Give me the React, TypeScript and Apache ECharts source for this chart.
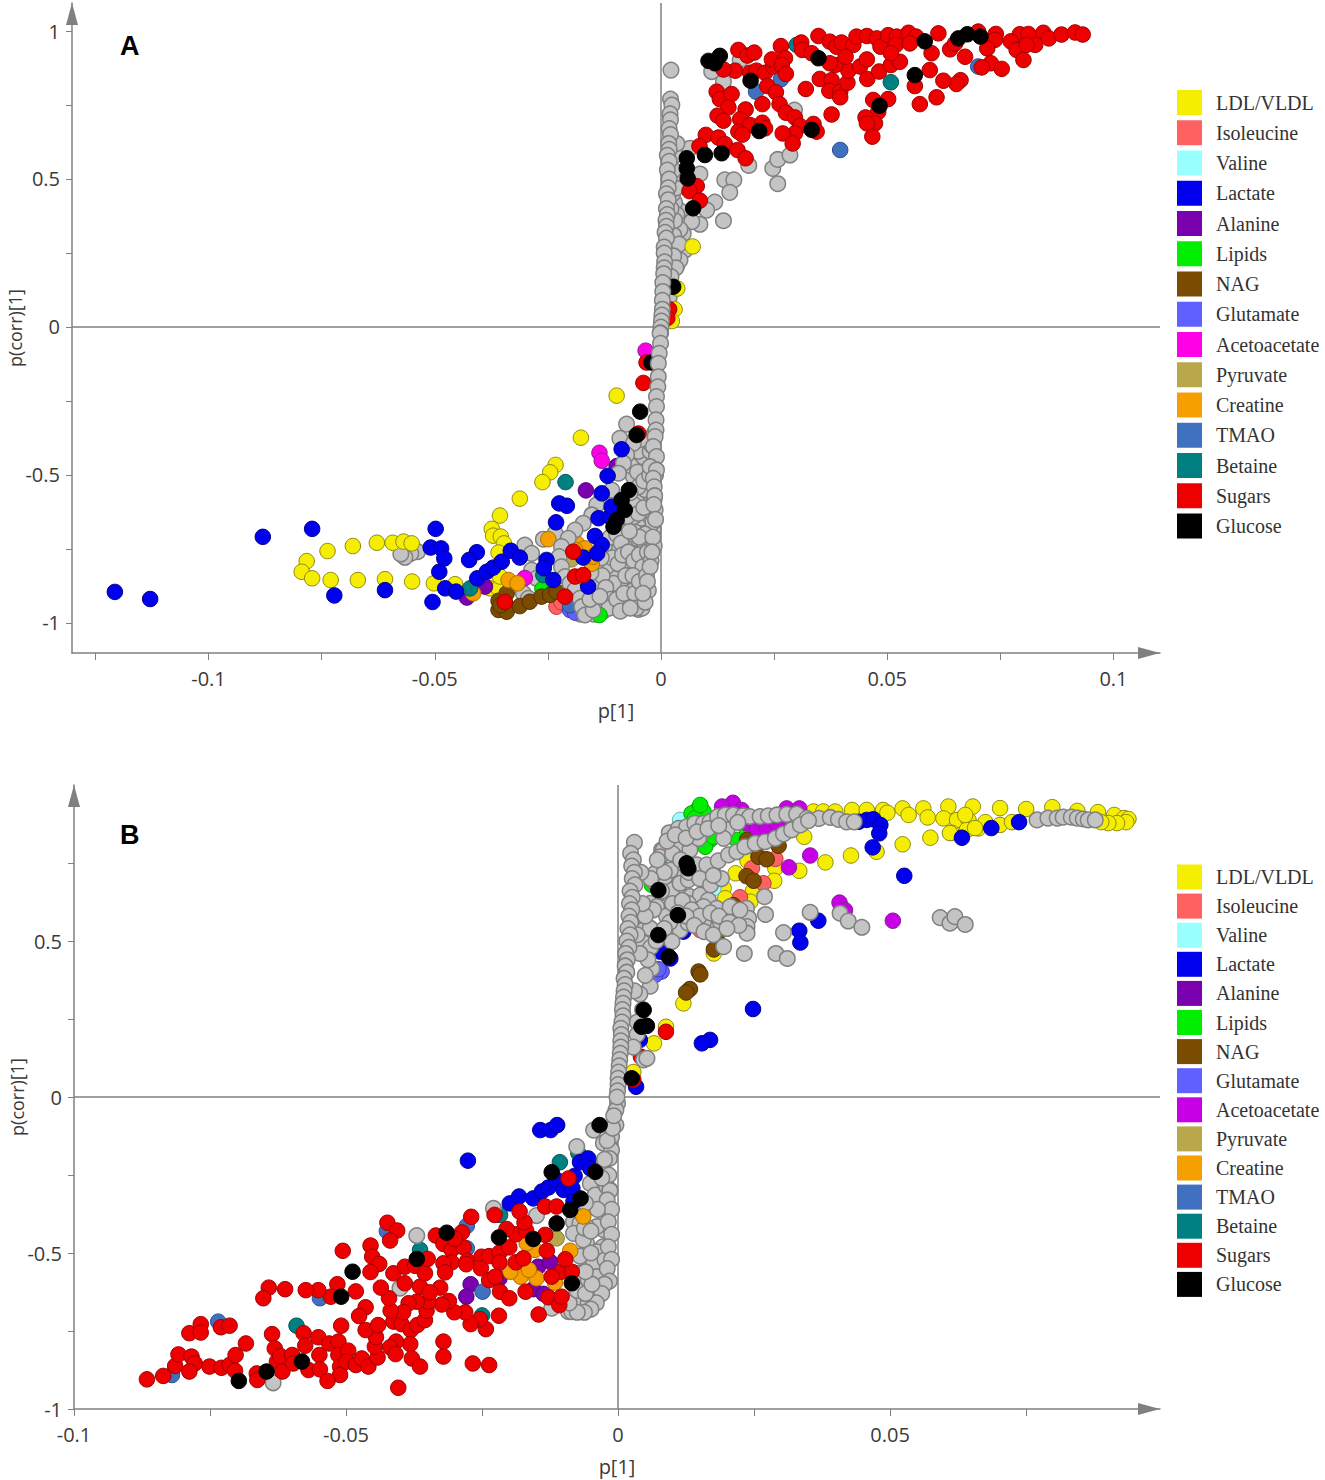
import React, { useEffect, useRef } from "react";
import * as echarts from "echarts";

type Pt = [number, number];

const legendNames = ["LDL/VLDL","Isoleucine","Valine","Lactate","Alanine","Lipids","NAG","Glutamate","Acetoacetate","Pyruvate","Creatine","TMAO","Betaine","Sugars","Glucose"];
const xTicksA = [-0.125,-0.1,-0.075,-0.05,-0.025,0,0.025,0.05,0.075,0.1];
const xLabelsA = [-0.1,-0.05,0,0.05,0.1];
const yTicksA = [-1,-0.75,-0.5,-0.25,0,0.25,0.5,0.75,1];
const yLabelsA = [-1,-0.5,0,0.5,1];
const xTicksB = [-0.1,-0.075,-0.05,-0.025,0,0.025,0.05,0.075];
const xLabelsB = [-0.1,-0.05,0,0.05];
const yTicksB = [-1,-0.75,-0.5,-0.25,0,0.25,0.5,0.75];
const yLabelsB = [-1,-0.5,0,0.5];

// ---------- Panel A ----------
const aSugars: Pt[] = [[.0171,.936],[.0191,.917],[.0206,.927],[.0265,.949],[.0310,.961],[.0312,.936],[.0348,.983],[.0373,.964],[.0388,.947],[.0399,.961],[.0425,.953],[.0432,.981],[.0455,.983],[.0477,.975],[.0485,.947],[.0502,.986],[.0521,.981],[.0519,.953],[.0547,.994],[.0564,.981],[.0550,.958],[.0613,.992],[.0598,.925],[.0639,.938],[.0650,.958],[.0701,.998],[.0740,.990],[.0738,.970],[.0721,.941],[.0672,.913],[.0793,.989],[.0812,.990],[.0845,.994],[.0857,.975],[.0885,.988],[.0915,.995],[.0932,.988],[.0773,.965],[.0786,.936],[.0801,.902],[.0827,.953],[.0808,.953],[.0729,.891],[.0753,.872],[.0709,.877],[.0662,.834],[.0653,.821],[.0624,.832],[.0594,.868],[.0609,.776],[.0572,.753],[.0561,.814],[.0502,.770],[.0469,.767],[.0480,.727],[.0452,.708],[.0473,.688],[.0455,.688],[.0467,.643],[.0377,.718],[.0320,.804],[.0351,.838],[.0377,.834],[.0372,.798],[.0396,.795],[.0396,.776],[.0412,.825],[.0414,.866],[.0385,.885],[.0408,.913],[.0440,.880],[.0455,.904],[.0456,.838],[.0482,.863],[.0508,.885],[.0528,.896],[.0508,.925],[.0333,.925],[.0373,.891],[.0164,.866],[.0138,.870],[.0197,.859],[.0211,.866],[.0230,.859],[.0248,.880],[.0245,.904],[.0274,.908],[.0267,.885],[.0276,.855],[.0235,.814],[.0254,.793],[.0123,.795],[.0130,.770],[.0156,.787],[.0149,.742],[.0187,.735],[.0224,.753],[.0262,.753],[.0276,.724],[.0296,.708],[.0307,.679],[.0296,.654],[.0269,.654],[.0291,.620],[.0337,.686],[.0344,.660],[.0125,.714],[.0138,.697],[.0175,.702],[.0197,.682],[.0224,.690],[.0230,.671],[.0171,.660],[.0180,.650],[.0099,.649],[.0127,.640],[.0141,.618],[.0085,.611],[.0169,.598],[.0187,.570],[.0079,.476],[.0063,.459],[.0086,.427],[-.0345,-.929],[-.0190,-.843],[-.0172,-.838],[-.0194,-.759],[-.0212,-.911],[-.0039,-.189],[-.0032,-.12],[-.0050,-.36],[.0018,.06],[.0014,.03]];
const aGlucose: Pt[] = [[.0105,.899],[.0119,.891],[.0130,.916],[.0198,.832],[.0217,.662],[.0097,.581],[.0134,.587],[.0057,.570],[.0057,.536],[.0059,.502],[.0071,.401],[.0333,.666],[.0348,.908],[.0483,.747],[.0561,.851],[.0583,.965],[.0657,.975],[.0677,.989],[.0706,.981],[.0027,.136],[-.0105,-.675],[-.0098,-.652],[-.0087,-.584],[-.0080,-.618],[-.0071,-.551],[-.0046,-.286],[-.0054,-.365],[-.0021,-.12]];
const aTmao: Pt[] = [[.0396,.598],[.0701,.880],[.0265,.837],[.0210,.795],[-.0201,-.94]];
const aBetaine: Pt[] = [[.0508,.827],[.0300,.953],[-.0211,-.524],[-.0422,-.883],[-.0260,-.838]];
const aLdl: Pt[] = [[-.0098,-.232],[-.0177,-.374],[-.0233,-.466],[-.0245,-.491],[-.0262,-.524],[-.0312,-.580],[-.0356,-.637],[-.0374,-.682],[-.0371,-.705],[-.0354,-.708],[-.0347,-.731],[-.0359,-.762],[-.0628,-.729],[-.0593,-.729],[-.0569,-.725],[-.0551,-.731],[-.0681,-.740],[-.0737,-.757],[-.0783,-.791],[-.0794,-.827],[-.0771,-.849],[-.0730,-.855],[-.0670,-.855],[-.0610,-.852],[-.0550,-.860],[-.0502,-.866],[-.0455,-.869],[-.0378,-.883],[-.0359,-.883],[-.0356,-.843],[.0070,.272],[.0036,.13],[.0030,.06],[.0024,.02]];
const aLactate: Pt[] = [[-.0771,-.682],[-.0498,-.682],[-.0509,-.745],[-.0486,-.748],[-.0479,-.782],[-.0490,-.827],[-.0407,-.761],[-.0424,-.787],[-.0722,-.907],[-.0610,-.889],[-.0505,-.929],[-.0477,-.883],[-.0453,-.894],[-.0406,-.849],[-.0385,-.827],[-.0371,-.813],[-.0352,-.793],[-.0332,-.756],[-.0312,-.779],[-.0253,-.787],[-.0259,-.815],[-.0238,-.855],[-.0172,-.779],[-.0161,-.877],[-.0232,-.660],[-.0225,-.596],[-.0208,-.604],[-.0146,-.706],[-.0131,-.736],[-.0141,-.765],[-.0138,-.646],[-.0113,-.641],[-.0109,-.607],[-.0131,-.562],[-.0118,-.503],[-.0087,-.413],[-.0880,-.709],[-.1207,-.895],[-.1129,-.919]];
const aAceto: Pt[] = [[-.0136,-.425],[-.0131,-.452],[-.0034,-.080],[-.0301,-.848]];
const aAlanine: Pt[] = [[-.0166,-.552],[-.0098,-.470],[-.0389,-.877],[-.0429,-.914]];
const aCreatine: Pt[] = [[-.0337,-.855],[-.0317,-.866],[-.0415,-.900],[-.0249,-.717],[-.0186,-.731],[-.0168,-.748],[-.0190,-.753],[-.0153,-.80],[-.0150,-.776]];
const aNag: Pt[] = [[-.0359,-.956],[-.0341,-.962],[-.0359,-.925],[-.0341,-.900],[-.0312,-.943],[-.0290,-.928],[-.0264,-.911],[-.0245,-.905],[-.0231,-.894],[-.0355,-.94]];
const aIso: Pt[] = [[-.0231,-.945],[-.0220,-.93]];
const aValine: Pt[] = [[-.0190,-.90]];
const aGlutamate: Pt[] = [[-.0201,-.956],[-.0190,-.965]];
const aLipids: Pt[] = [[-.0136,-.973],[-.0262,-.885]];
const aPyruvate: Pt[] = [[-.0198,-.785]];
const aGrayUnder: Pt[] = [[.0022,.868],[.0138,.359],[.0086,.347],[.0119,.422],[.0101,.395],[.0068,.356],[.0042,.393],[.0086,.517],[.0141,.497],[.0161,.497],[.0152,.455],[.0258,.484],[.0247,.536],[.0258,.566],[.0285,.581],[.0194,.546],[.0138,.829],[.0112,.863],[.0175,.902],[.0295,.733],[.0064,.604],[.0053,.26],[.0035,.339],[.0035,.209],[.0042,.226],[.0049,.316],[.0030,.42],[.0035,.38],[.0042,.33],[.0028,.31],[.0040,.28],[.0028,.24],[.0033,.20],[.0022,.17],[.0025,.13],[.0018,.10],[.0030,.36],[.0022,.40],[.0026,.45],[.0033,.47],[.0040,.52],[.0028,.53],[.0030,.58],[.0035,.62],[-.0538,-.759],[-.0553,-.765],[-.0566,-.778],[-.0575,-.767],[-.0098,-.748],[-.0069,-.793],[-.0035,-.798],[-.0054,-.68],[-.0028,-.675],[-.0032,-.602],[-.0061,-.714],[-.0083,-.798],[-.0105,-.821],[-.0094,-.889],[-.0065,-.877],[-.0043,-.911],[-.0050,-.954],[-.0105,-.945],[-.0135,-.866],[-.0116,-.786],[-.0076,-.843],[-.0054,-.821],[-.0039,-.753],[-.0080,-.742],[-.0017,-.686],[-.0013,-.618],[-.0043,-.646],[-.0061,-.641],[-.0032,-.551],[-.0046,-.584],[-.0046,-.46],[-.0032,-.438],[-.0061,-.505],[-.0039,-.495],[-.0091,-.877],[-.0120,-.911],[-.0028,-.72],[-.0024,-.64],[-.0072,-.92],[-.0083,-.675],[-.0105,-.866],[-.0061,-.765],[-.0021,-.585],[-.0301,-.737],[-.0286,-.765],[-.0260,-.717],[-.0286,-.821],[-.0275,-.849],[-.0304,-.90],[-.0293,-.917],[-.0234,-.697],[-.0125,-.74],[-.0112,-.71],[-.0098,-.70],[-.0088,-.73],[-.0120,-.81],[-.0108,-.78],[-.0095,-.80],[-.0085,-.77],[-.0072,-.76],[-.0060,-.79],[-.0048,-.77],[-.0040,-.81],[-.0030,-.76],[-.0022,-.79],[-.0015,-.74],[-.0018,-.66],[-.0035,-.70],[-.0048,-.71],[-.0070,-.69],[-.0075,-.64],[-.0060,-.60],[-.0050,-.63],[-.0038,-.61],[-.0022,-.57],[-.0035,-.55],[-.0050,-.54],[-.0068,-.56],[-.0065,-.47],[-.0052,-.49],[-.0038,-.52],[-.0025,-.50],[-.0018,-.46],[-.0038,-.44],[-.0050,-.42],[-.0024,-.42],[-.0015,-.58],[-.0012,-.50],[-.0020,-.40],[-.0015,-.36],[-.0030,-.38],[-.0045,-.38],[-.0145,-.82],[-.0150,-.87],[-.0130,-.84],[-.0122,-.88],[-.0112,-.92],[-.0138,-.94],[-.0128,-.96],[-.0115,-.95],[-.0098,-.92],[-.0090,-.96],[-.0082,-.90],[-.0078,-.84],[-.0062,-.84],[-.0058,-.90],[-.0048,-.86],[-.0032,-.84],[-.0028,-.89],[-.0042,-.95],[-.0055,-.95],[-.0068,-.95],[-.0035,-.93],[-.0160,-.96],[-.0178,-.97],[-.0148,-.97],[-.0165,-.90],[-.0155,-.83],[-.0132,-.78]];
const aGrayCurve: Pt[] = [[-.0076,-.328],[-.0091,-.376],[-.0061,-.393],[-.0076,-.432],[-.0083,-.46],[-.0094,-.494],[-.0109,-.551],[-.0131,-.579],[-.0142,-.601],[-.0153,-.635],[-.0172,-.663],[-.0190,-.686],[-.0205,-.714],[-.0220,-.742],[-.0225,-.776],[-.0220,-.81],[-.0212,-.843],[-.0201,-.866],[-.0190,-.888],[-.0179,-.917],[-.0175,-.945],[-.0168,-.973],[-.0150,-.956],[-.0157,-.92],[-.0135,-.91]];
const aGrayStack: Pt[] = [[.0021,.77],[.0024,.75],[.0020,.72],[.0021,.70],[.0018,.67],[.0021,.65],[.0017,.62],[.0018,.60],[.0014,.58],[.0018,.56],[.0014,.53],[.0018,.50],[.0016,.47],[.0012,.45],[.0016,.43],[.0012,.40],[.0014,.38],[.0011,.36],[.0012,.34],[.0009,.32],[.0012,.30],[.0007,.27],[.0007,.25],[.0008,.22],[.0007,.20],[.0006,.18],[.0004,.15],[.0004,.12],[.0003,.09],[.0003,.06],[.0002,.04],[.0001,.02],[0,0],[-.0001,-.02],[-.0002,-.021],[-.0001,-.055],[-.0004,-.089],[-.0006,-.123],[-.0006,-.168],[-.0007,-.202],[-.0010,-.235],[-.0010,-.269],[-.0011,-.314],[-.0011,-.348],[-.0013,-.37],[-.0017,-.404],[-.0010,-.438],[-.0024,-.472],[-.0010,-.483],[-.0017,-.511],[-.0015,-.54],[-.0014,-.57],[-.0016,-.60],[-.0012,-.65],[-.0018,-.71],[-.0020,-.76],[-.0024,-.81],[-.0030,-.86],[-.0040,-.90]];

// ---------- Panel B ----------
const bLdl: Pt[] = [[.0359,.915],[.0377,.915],[.0399,.915],[.0430,.920],[.0457,.920],[.0487,.920],[.0495,.911],[.0523,.925],[.0534,.904],[.0561,.925],[.0569,.896],[.0607,.931],[.0598,.893],[.0623,.888],[.0644,.888],[.0652,.931],[.0613,.847],[.0641,.856],[.0662,.861],[.0574,.831],[.0523,.810],[.0475,.786],[.0428,.774],[.0381,.752],[.0333,.725],[.0342,.834],[.0289,.733],[.0287,.693],[.0238,.757],[.0216,.717],[.0248,.661],[.0243,.626],[.0194,.669],[.0197,.637],[.0176,.460],[.0120,.300],[.0088,.225],[.0066,.172],[.0028,.08],[.0702,.926],[.0750,.923],[.0798,.929],[.0844,.917],[.0882,.913],[.0912,.904],[.0930,.894],[.0938,.891],[.0934,.881],[.0917,.878],[.0901,.878],[.0888,.881],[.0702,.872],[.0675,.881],[.0656,.862],[.0724,.881],[.0638,.904],[.0610,.846]];
const bLactate: Pt[] = [[.0442,.882],[.0457,.888],[.0469,.890],[.0482,.872],[.0480,.845],[.0468,.800],[.0526,.709],[.0632,.831],[.0368,.565],[.0333,.533],[.0335,.495],[.0248,.282],[.0169,.183],[.0154,.172],[.0033,.033],[.0077,.466],[.0040,.183],[.0108,.62],[.0120,.53],[.0096,.444],[.0686,.862],[.0737,.881],[-.0276,-.204],[-.0143,-.106],[-.0124,-.106],[-.0112,-.090],[-.0199,-.341],[-.0182,-.319],[-.0156,-.325],[-.0140,-.303],[-.0128,-.290],[-.0113,-.266],[-.0100,-.298],[-.0084,-.293],[-.0080,-.253],[-.0070,-.209],[-.0055,-.197],[-.0051,-.229],[-.0082,-.335]];
const bAceto: Pt[] = [[.0211,.943],[.0191,.931],[.0227,.92],[.0310,.925],[.0333,.925],[.0353,.774],[.0314,.736],[.0407,.623],[.0417,.599],[.0505,.565],[.0237,.877],[.0255,.861],[.0273,.861],[.0291,.877],[.0212,.893],[.0224,.888],[.0304,.888]];
const bLipids: Pt[] = [[.0148,.925],[.0135,.909],[.0157,.915],[.0141,.893],[.0151,.936],[.0169,.824],[.0160,.802],[.0175,.834],[.0077,.744],[.0237,.845],[.0218,.824],[.0062,.68],[.0044,.546]];
const bValine: Pt[] = [[.0114,.888],[.0175,.669],[.0178,.706],[.0135,.60]];
const bIso: Pt[] = [[.0289,.763],[.0267,.685],[.0224,.640],[.0246,.733],[.0151,.535]];
const bNag: Pt[] = [[.0258,.770],[.0273,.762],[.0236,.708],[.0249,.693],[.0295,.805],[.0181,.514],[.0176,.473],[.0148,.402],[.0151,.393],[.0132,.346],[.0125,.335],[.0212,.615],[.0237,.824]];
const bGlucose: Pt[] = [[.0110,.583],[.0093,.450],[.0053,.228],[.0043,.225],[.0129,.733],[.0074,.663],[.0074,.519],[.0047,.279],[.0025,.06],[.0126,.749],[-.0697,-.910],[-.0646,-.880],[-.0581,-.848],[-.0509,-.640],[-.0488,-.560],[-.0370,-.519],[-.0315,-.435],[-.0219,-.450],[-.0156,-.455],[-.0113,-.405],[-.0085,-.597],[-.0122,-.241],[-.0034,-.090],[-.0069,-.325],[-.0088,-.362],[-.0042,-.24]];
const bGlutamate: Pt[] = [[.0080,.402],[.0068,.391],[.0175,.717],[.0074,.41]];
const bPyruvate: Pt[] = [[.0080,.498],[-.0113,-.453]];
const bSugars: Pt[] = [[.0088,.209],[.0042,.129],[.0028,.055],[-.0866,-.905],[-.0836,-.894],[-.0814,-.862],[-.0808,-.825],[-.0788,-.757],[-.0767,-.728],[-.0767,-.755],[-.0730,-.738],[-.0714,-.733],[-.0784,-.832],[-.0778,-.854],[-.0788,-.880],[-.0751,-.864],[-.0729,-.868],[-.0714,-.859],[-.0703,-.827],[-.0704,-.877],[-.0684,-.790],[-.0664,-.886],[-.0663,-.907],[-.0636,-.760],[-.0631,-.806],[-.0627,-.848],[-.0621,-.830],[-.0617,-.880],[-.0599,-.827],[-.0597,-.854],[-.0578,-.757],[-.0575,-.797],[-.0569,-.875],[-.0551,-.770],[-.0549,-.827],[-.0548,-.873],[-.0531,-.790],[-.0514,-.784],[-.0514,-.827],[-.0511,-.864],[-.0511,-.891],[-.0534,-.910],[-.0496,-.813],[-.0499,-.848],[-.0482,-.859],[-.0471,-.838],[-.0459,-.864],[-.0442,-.835],[-.0447,-.800],[-.0445,-.770],[-.0464,-.747],[-.0441,-.731],[-.0509,-.733],[-.0413,-.720],[-.0398,-.728],[-.0381,-.747],[-.0369,-.731],[-.0355,-.715],[-.0382,-.792],[-.0408,-.784],[-.0419,-.802],[-.0409,-.824],[-.0379,-.838],[-.0364,-.864],[-.0404,-.932],[-.0321,-.784],[-.0321,-.832],[-.0267,-.854],[-.0237,-.859],[-.0146,-.697],[-.0219,-.701],[-.0243,-.744],[-.0254,-.712],[-.0271,-.728],[-.0281,-.690],[-.0301,-.690],[-.0311,-.654],[-.0324,-.665],[-.0352,-.685],[-.0349,-.656],[-.0370,-.656],[-.0385,-.661],[-.0395,-.690],[-.0418,-.685],[-.0421,-.645],[-.0436,-.611],[-.0392,-.597],[-.0364,-.608],[-.0327,-.611],[-.0346,-.626],[-.0464,-.674],[-.0476,-.702],[-.0482,-.623],[-.0516,-.600],[-.0528,-.640],[-.0551,-.619],[-.0574,-.619],[-.0612,-.616],[-.0642,-.611],[-.0652,-.645],[-.0506,-.493],[-.0455,-.476],[-.0452,-.512],[-.0439,-.535],[-.0455,-.561],[-.0413,-.565],[-.0392,-.544],[-.0373,-.541],[-.0355,-.565],[-.0350,-.519],[-.0424,-.403],[-.0406,-.428],[-.0419,-.460],[-.0335,-.444],[-.0321,-.471],[-.0306,-.490],[-.0284,-.482],[-.0287,-.434],[-.0300,-.455],[-.0270,-.384],[-.0277,-.525],[-.0306,-.530],[-.0321,-.533],[-.0318,-.562],[-.0279,-.536],[-.0251,-.512],[-.0252,-.549],[-.0237,-.510],[-.0218,-.499],[-.0218,-.530],[-.0200,-.482],[-.0237,-.587],[-.0226,-.576],[-.0217,-.624],[-.0200,-.645],[-.0170,-.624],[-.0128,-.642],[-.0108,-.667],[-.0104,-.640],[-.0104,-.560],[-.0085,-.560],[-.0122,-.576],[-.0097,-.520],[-.0131,-.493],[-.0134,-.442],[-.0188,-.530],[-.0174,-.517],[-.0188,-.440],[-.0169,-.428],[-.0205,-.423],[-.0172,-.402],[-.0181,-.367],[-.0227,-.378],[-.0134,-.351],[-.0113,-.351],[-.0091,-.261]];
const bCreatine: Pt[] = [[-.0088,-.493],[-.0116,-.595],[-.0150,-.581],[-.0179,-.576],[-.0164,-.554],[-.0198,-.560],[-.0153,-.490],[-.0168,-.469],[-.0064,-.383]];
const bAlanine: Pt[] = [[-.0271,-.600],[-.0279,-.640],[-.0156,-.616],[-.0137,-.631],[-.0147,-.544],[-.0125,-.528],[-.0218,-.581]];
const bTmao: Pt[] = [[-.0249,-.624],[-.0548,-.645],[-.0735,-.72],[-.0278,-.413],[-.0820,-.891],[-.0425,-.43],[-.0278,-.485]];
const bBetaine: Pt[] = [[-.0591,-.733],[-.0364,-.49],[-.0250,-.70],[-.0217,-.378],[-.0107,-.209],[-.0073,-.18]];
const bGrayLower: Pt[] = [[-.0370,-.444],[-.0634,-.916],[-.0401,-.613],[-.0122,-.677],[-.0150,-.38],[-.0229,-.357],[-.0076,-.159],[-.0045,-.106],[-.0024,-.336],[-.0023,-.384],[-.0026,-.426],[-.0028,-.48],[-.0032,-.53],[-.0034,-.581],[-.0042,-.624],[-.0048,-.64],[-.0061,-.656],[-.0073,-.677],[-.0091,-.688],[-.0082,-.68],[-.0067,-.608],[-.0073,-.565],[-.0058,-.469],[-.0055,-.586],[-.0058,-.522],[-.0039,-.496],[-.0045,-.533],[-.0039,-.415],[-.0048,-.351],[-.0033,-.351],[-.0051,-.277],[-.0042,-.314],[-.0036,-.234],[-.0021,-.287],[-.0073,-.378],[-.0082,-.40],[-.0070,-.405],[-.0082,-.437],[-.0064,-.458],[-.0058,-.416],[-.0070,-.51],[-.0079,-.64],[-.0070,-.65],[-.0055,-.661],[-.0085,-.688],[-.0039,-.576],[-.0024,-.522],[-.0015,-.16],[-.0030,-.223],[-.0027,-.148],[-.0001,-.02],[-.0004,-.042],[-.0004,-.09],[-.0012,-.127],[-.0012,-.17],[-.0016,-.197],[-.0017,-.25],[-.0015,-.298],[-.0015,-.30],[-.0020,-.33],[-.0012,-.36],[-.0018,-.40],[-.0012,-.44],[-.0018,-.48],[-.0012,-.52],[-.0020,-.55],[-.0016,-.59],[-.0025,-.60],[-.0030,-.63],[-.0040,-.66],[-.0050,-.68],[-.0062,-.69],[-.0075,-.69],[-.0090,-.66],[-.0075,-.62],[-.0060,-.63],[-.0048,-.60],[-.0060,-.56],[-.0050,-.50],[-.0062,-.42],[-.0050,-.43],[-.0038,-.36],[-.0060,-.34],[-.0030,-.26],[-.0025,-.20],[-.0020,-.14],[-.0010,-.10],[-.0008,-.06]];
const bGrayUpper: Pt[] = [[.0047,.535],[.0059,.621],[.0068,.685],[.0080,.792],[.0094,.847],[.0111,.861],[.0126,.866],[.0141,.877],[.0157,.877],[.0169,.882],[.0183,.899],[.0197,.904],[.0212,.904],[.0230,.901],[.0242,.899],[.0261,.899],[.0276,.901],[.0292,.904],[.0310,.906],[.0328,.907],[.0347,.893],[.0369,.893],[.0390,.896],[.0405,.890],[.0420,.882],[.0434,.882],[.0071,.61],[.0089,.653],[.0108,.711],[.0123,.744],[.0145,.744],[.0163,.744],[.0184,.757],[.0203,.776],[.0218,.786],[.0233,.802],[.0252,.813],[.0270,.818],[.0289,.829],[.0304,.843],[.0319,.856],[.0335,.872],[.0350,.886],[.0083,.792],[.0114,.813],[.0132,.792],[.0148,.829],[.0200,.856],[.0194,.829],[.0099,.663],[.0114,.685],[.0129,.696],[.0086,.706],[.0068,.717],[.0132,.642],[.0151,.647],[.0166,.631],[.0181,.605],[.0200,.578],[.0218,.573],[.0236,.605],[.0240,.573],[.0237,.546],[.0237,.525],[.0172,.551],[.0145,.573],[.0114,.535],[.0099,.498],[.0089,.580],[.0065,.60],[.0059,.541],[.0047,.493],[.0194,.482],[.0232,.460],[.0269,.642],[.0271,.585],[.0304,.527],[.0290,.460],[.0311,.444],[.0353,.592],[.0408,.589],[.0423,.564],[.0448,.544],[.0592,.575],[.0610,.557],[.0619,.578],[.0638,.553],[.0062,.412],[.0059,.355],[.0047,.119],[.0053,.124],[.0157,.61],[.0129,.621],[.0206,.61],[.0224,.599],[.0188,.562],[.0157,.562],[.0129,.557],[.0096,.727],[.0077,.770],[.0770,.888],[.0790,.894],[.0807,.894],[.0818,.897],[.0833,.897],[.0844,.894],[.0855,.891],[.0864,.888],[.0877,.888],[.0085,.72],[.0100,.78],[.0115,.76],[.0130,.72],[.0150,.70],[.0170,.68],[.0190,.70],[.0175,.71],[.0080,.66],[.0100,.62],[.0118,.63],[.0135,.60],[.0150,.58],[.0170,.59],[.0185,.58],[.0205,.56],[.0222,.55],[.0095,.56],[.0110,.59],[.0125,.58],[.0140,.55],[.0158,.53],[.0175,.52],[.0200,.54],[.0075,.52],[.0085,.54],[.0060,.48],[.0070,.50],[.0055,.44],[.0050,.58],[.0060,.70],[.0072,.76],[.0090,.82],[.0105,.84],[.0125,.83],[.0145,.85],[.0165,.86],[.0185,.87],[.0220,.88],[.0040,.46],[.0050,.39],[.0040,.33],[.0045,.28],[.0035,.24],[.0035,.20],[.0028,.16],[.0030,.34],[.0035,.52],[.0045,.62],[.0042,.72],[.0030,.816],[.0023,.781],[.0028,.76],[.0025,.74],[.0030,.72],[.0026,.70],[.0031,.68],[.0022,.66],[.0026,.64],[.0021,.62],[.0025,.60],[.0020,.58],[.0023,.56],[.0018,.54],[.0022,.52],[.0016,.50],[.0020,.48],[.0014,.46],[.0017,.44],[.0013,.42],[.0016,.40],[.0011,.38],[.0013,.36],[.0011,.34],[.0010,.32],[.0009,.30],[.0008,.28],[.0009,.26],[.0007,.24],[.0005,.22],[.0006,.20],[.0005,.18],[.0005,.16],[.0004,.14],[.0003,.12],[.0002,.10],[.0001,.08],[0,.06],[0,.04],[-.0001,.02],[-.0002,0]];

const FILL: Record<string, string> = { "LDL/VLDL":"#f5ee00", Isoleucine:"#ff6060", Valine:"#99ffff", Lactate:"#0000ee", Alanine:"#7a00b0", Lipids:"#00ee00", NAG:"#7a4b00", Glutamate:"#6060ff", Acetoacetate:"#c800e6", Pyruvate:"#b8a84a", Creatine:"#f5a000", TMAO:"#4070c0", Betaine:"#008080", Sugars:"#ee0000", Glucose:"#000000", Other:"#c4c4c4" };
const EDGE: Record<string, string> = { "LDL/VLDL":"#8f8a10", Isoleucine:"#b04040", Valine:"#70b0b0", Lactate:"#000090", Alanine:"#50007a", Lipids:"#00a000", NAG:"#503000", Glutamate:"#4040b0", Acetoacetate:"#802090", Pyruvate:"#807530", Creatine:"#a87000", TMAO:"#28508f", Betaine:"#005555", Sugars:"#a00000", Glucose:"#000000", Other:"#808080" };
const ACETO_A = "#ff00e6";

function scatter(name: string, data: Pt[], panel: number, fill?: string) {
  return {
    type: "scatter", name, data, xAxisIndex: panel, yAxisIndex: panel,
    symbol: "circle", symbolSize: 15.5, silent: true,
    itemStyle: { color: fill ?? FILL[name], borderColor: EDGE[name], borderWidth: name === "Other" ? 1.5 : 1, opacity: 1 },
    emphasis: { disabled: true },
  };
}

function zeroLines(panel: number) {
  return {
    type: "scatter", name: "axes", data: [], xAxisIndex: panel, yAxisIndex: panel, silent: true,
    markLine: {
      silent: true, symbol: "none", animation: false, z: 1,
      label: { show: false },
      lineStyle: { color: "#808080", width: 1.5, type: "solid" },
      data: [{ xAxis: 0 }, { yAxis: 0 }],
    },
  };
}

const axisFont = { fontFamily: "Open Sans", fontSize: 20, color: "#3a3a3a" };
const axisColor = "#808080";

function xAxis(panel: number, min: number, max: number, ticks: number[], labels: number[]) {
  return {
    type: "value", gridIndex: panel, min, max, splitLine: { show: false },
    name: "p[1]", nameLocation: "middle", nameGap: 47, nameTextStyle: axisFont,
    axisLine: { onZero: false, lineStyle: { color: axisColor, width: 1.5 }, symbol: ["none", "triangle"], symbolSize: [12, 22], symbolOffset: [0, -11] },
    axisTick: { length: 7, lineStyle: { color: axisColor, width: 1 }, customValues: ticks },
    axisLabel: { ...axisFont, margin: 15, customValues: labels, showMinLabel: true, showMaxLabel: true },
  };
}
function yAxis(panel: number, min: number, max: number, ticks: number[], labels: number[]) {
  return {
    type: "value", gridIndex: panel, min, max, splitLine: { show: false },
    name: "p(corr)[1]", nameLocation: "middle", nameGap: 48, nameMoveOverlap: false, nameTextStyle: { ...axisFont, fontSize: 18 },
    axisLine: { onZero: false, lineStyle: { color: axisColor, width: 1.5 }, symbol: ["none", "triangle"], symbolSize: [12, 22], symbolOffset: [0, -11] },
    axisTick: { length: 6, lineStyle: { color: axisColor, width: 1 }, customValues: ticks },
    axisLabel: { ...axisFont, margin: 12, customValues: labels },
  };
}
function legend(top: number, gap: number, panelA: boolean) {
  return {
    orient: "vertical", left: 1177, top, itemWidth: 25, itemHeight: 25, itemGap: gap, selectedMode: false,
    icon: "rect", padding: 0,
    textStyle: { fontFamily: "Liberation Serif", fontSize: 20, color: "#333", padding: [0, 0, 0, 9] },
    data: legendNames.map((n) => ({
      name: n, icon: "rect",
      itemStyle: { color: panelA && n === "Acetoacetate" ? ACETO_A : FILL[n], borderWidth: 0 },
    })),
  };
}

export default function App() {
  const ref = useRef<HTMLDivElement>(null);
  useEffect(() => {
    const chart = echarts.init(ref.current!, undefined, { renderer: "svg" });
    chart.setOption({
      animation: false,
      backgroundColor: "#ffffff",
      grid: [
        { left: 72, top: 3, width: 1088, height: 650, outerBoundsMode: "none" },
        { left: 74, top: 785, width: 1086, height: 624, outerBoundsMode: "none" },
      ],
      xAxis: [xAxis(0, -0.13017, 0.11028, xTicksA, xLabelsA), xAxis(1, -0.1, 0.0996, xTicksB, xLabelsB)],
      yAxis: [yAxis(0, -1.1014, 1.0946, yTicksA, yLabelsA), yAxis(1, -1, 1, yTicksB, yLabelsB)],
      legend: [legend(90, 5.25, true), legend(864.5, 4.1, false)],
      graphic: [
        { type: "text", left: 120, top: 32, style: { text: "A", font: "bold 27px 'Liberation Sans'", fill: "#000" } },
        { type: "text", left: 120, top: 821, style: { text: "B", font: "bold 27px 'Liberation Sans'", fill: "#000" } },
      ],
      series: [
        zeroLines(0),
        scatter("Other", aGrayUnder, 0),
        scatter("LDL/VLDL", aLdl, 0),
        scatter("Isoleucine", aIso, 0),
        scatter("Valine", aValine, 0),
        scatter("Alanine", aAlanine, 0),
        scatter("Lipids", aLipids, 0),
        scatter("NAG", aNag, 0),
        scatter("Glutamate", aGlutamate, 0),
        scatter("Acetoacetate", aAceto, 0, ACETO_A),
        scatter("Pyruvate", aPyruvate, 0),
        scatter("Creatine", aCreatine, 0),
        scatter("TMAO", aTmao, 0),
        scatter("Betaine", aBetaine, 0),
        scatter("Other", aGrayCurve, 0),
        scatter("Lactate", aLactate, 0),
        scatter("Sugars", aSugars, 0),
        scatter("Glucose", aGlucose, 0),
        scatter("Other", aGrayStack, 0),
        zeroLines(1),
        scatter("LDL/VLDL", bLdl, 1),
        scatter("Isoleucine", bIso, 1),
        scatter("Valine", bValine, 1),
        scatter("Alanine", bAlanine, 1),
        scatter("Lipids", bLipids, 1),
        scatter("NAG", bNag, 1),
        scatter("Glutamate", bGlutamate, 1),
        scatter("Acetoacetate", bAceto, 1),
        scatter("Pyruvate", bPyruvate, 1),
        scatter("TMAO", bTmao, 1),
        scatter("Betaine", bBetaine, 1),
        scatter("Other", bGrayLower, 1),
        scatter("Creatine", bCreatine, 1),
        scatter("Lactate", bLactate, 1),
        scatter("Sugars", bSugars, 1),
        scatter("Other", bGrayUpper, 1),
        scatter("Glucose", bGlucose, 1),
      ],
    });
    return () => chart.dispose();
  }, []);
  return <div ref={ref} style={{ position: "absolute", left: 0, top: 0, width: 1325, height: 1480 }} />;
}
